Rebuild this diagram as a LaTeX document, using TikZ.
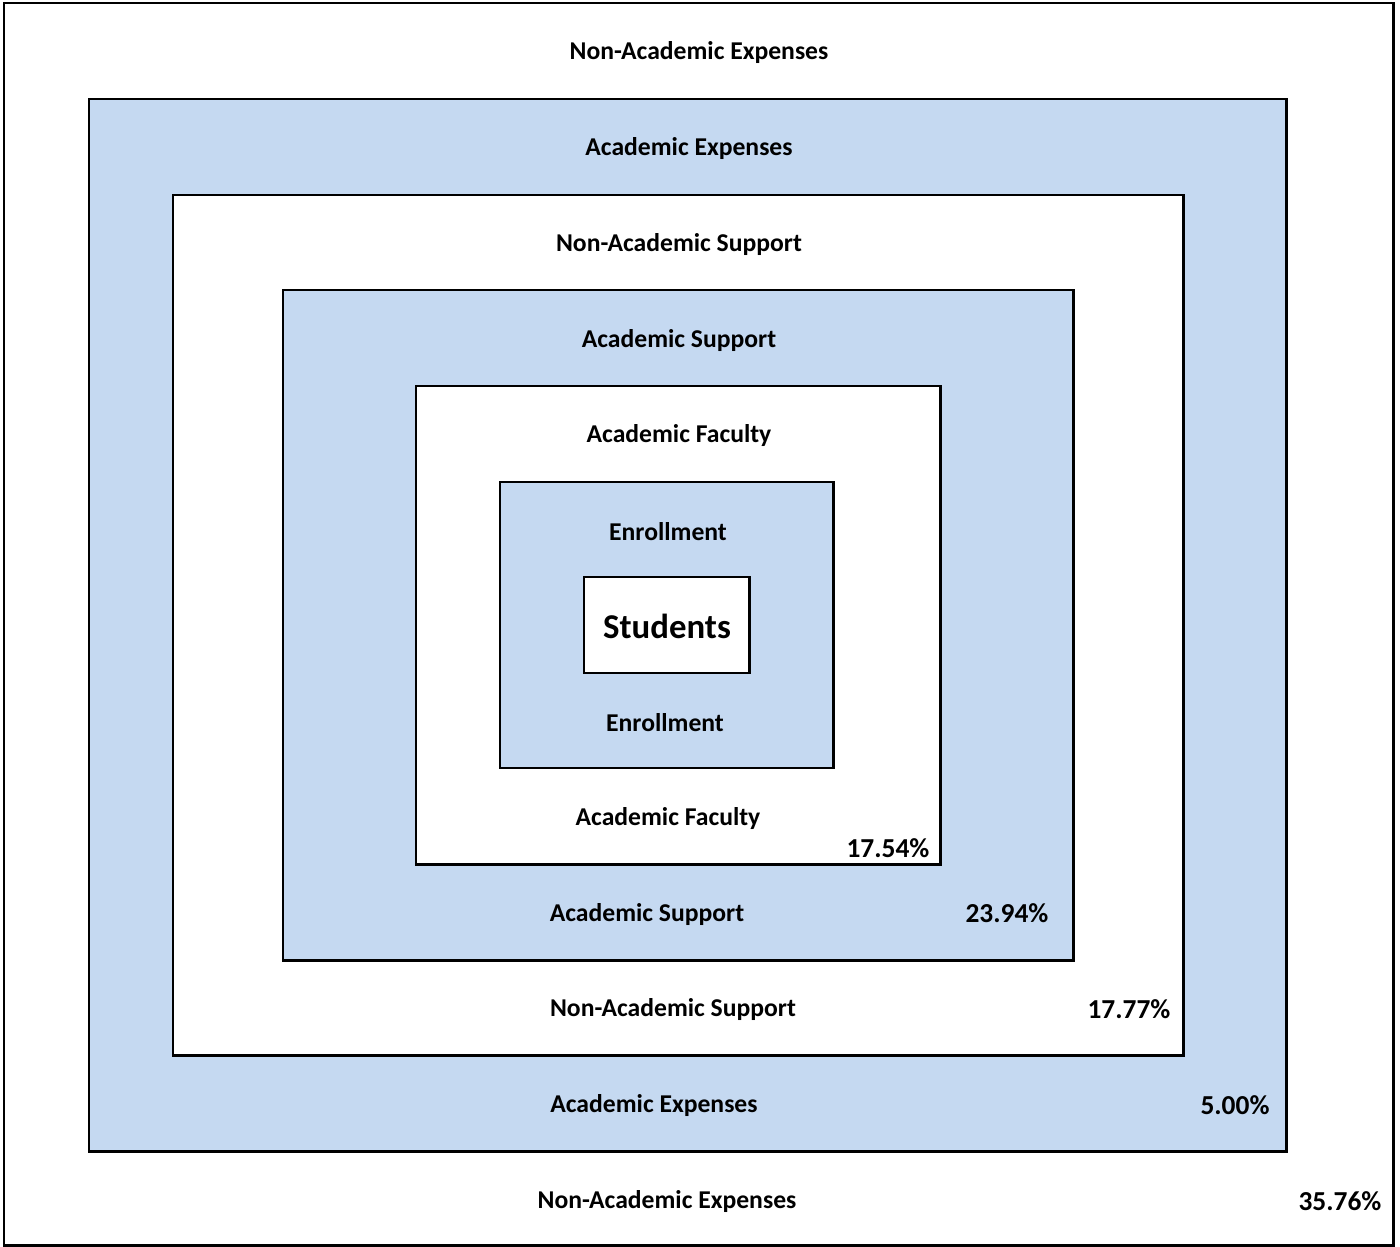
\documentclass[tikz,border=0pt]{standalone}
\usepackage{fontspec}
\setmainfont{Carlito}
\definecolor{ringblue}{RGB}{197,217,241}
\tikzset{
	ring/.style={draw=black, line width=1.7pt},
	lbl/.style={font=\bfseries\fontsize{14.6}{17}\selectfont, inner sep=0pt},
	pct/.style={font=\bfseries\fontsize{15.6}{18}\selectfont, inner sep=0pt}
}
\begin{document}
\begin{tikzpicture}[x=0.02cm,y=-0.02cm]
	\useasboundingbox (0,0) rectangle (1400,1247);
	\draw[ring, fill=white] (4,3) rectangle (1393,1245);
	\draw[ring, fill=ringblue] (89,99) rectangle (1286,1151);
	\draw[ring, fill=white] (173,195) rectangle (1183,1055);
	\draw[ring, fill=ringblue] (283,290) rectangle (1073,960);
	\draw[ring, fill=white] (416,386) rectangle (940,864);
	\draw[ring, fill=ringblue] (500,482) rectangle (833,768);
	\draw[ring, fill=white] (584,577) rectangle (749,673);
	% labels, top half
	\node[lbl] (naeTop) at (699,53) {Non-Academic Expenses};
	\node[lbl] (aeTop) at (689,149) {Academic Expenses};
	\node[lbl] (nasTop) at (679,245) {Non-Academic Support};
	\node[lbl] (asTop) at (679,341) {Academic Support};
	\node[lbl] (afTop) at (679,436) {Academic Faculty};
	\node[lbl] (enTop) at (668,532) {Enrollment};
	\node[font=\bfseries\fontsize{19.8}{22}\selectfont, inner sep=0pt] (students) at (667,626) {Students};
	% labels, bottom half
	\node[lbl] (enBot) at (665,723) {Enrollment};
	\node[lbl] (afBot) at (668,819) {Academic Faculty};
	\node[lbl] (asBot) at (647,915) {Academic Support};
	\node[lbl] (nasBot) at (673,1010) {Non-Academic Support};
	\node[lbl] (aeBot) at (654,1106) {Academic Expenses};
	\node[lbl] (naeBot) at (667,1202) {Non-Academic Expenses};
	% shares
	\node[pct] (pAf) at (888,848) {17.54\%};
	\node[pct] (pAs) at (1007,913) {23.94\%};
	\node[pct] (pNas) at (1129,1009) {17.77\%};
	\node[pct] (pAe) at (1235,1105) {5.00\%};
	\node[pct] (pNae) at (1340,1201) {35.76\%};
\end{tikzpicture}
\end{document}
